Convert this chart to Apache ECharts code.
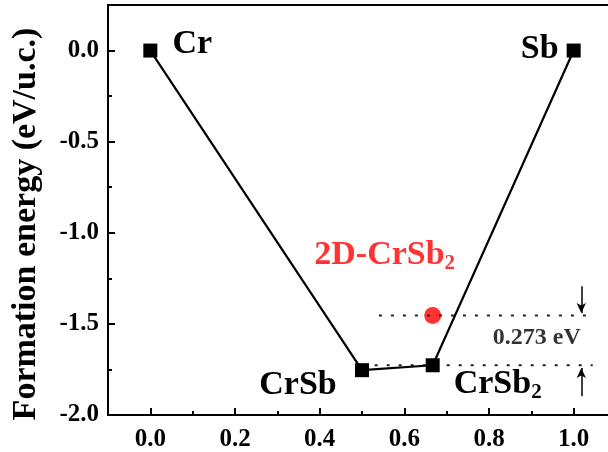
<!DOCTYPE html>
<html>
<head>
<meta charset="utf-8">
<script src="https://cdn.jsdelivr.net/npm/echarts@6/dist/echarts.min.js"></script>
<style>
  html, body { margin: 0; padding: 0; background: #fff; }
  #chart { width: 608px; height: 452px; }
</style>
</head>
<body>
<div id="chart"></div>
<script>
// hull points: composition x(Sb) vs formation energy
var hullX = [0.0, 0.5, 0.667, 1.0]
var hullY = [0.0, -1.754, -1.727, 0.0]
var hullNames = ['Cr', 'CrSb', 'CrSb2', 'Sb']

// 2D phase
var phase2D = [0.667, -1.454]

// reference levels for the 0.273 eV gap
var levelUpper = [[0.54, -1.454], [1.05, -1.454]]
var levelLower = [[0.53, -1.727], [1.045, -1.727]]
var arrowDown = [[1.018, -1.293], [1.018, -1.44]]
var arrowUp = [[1.018, -1.897], [1.018, -1.742]]
var gapText = [0.913, -1.575]

var xTicks = [0.0, 0.2, 0.4, 0.6, 0.8, 1.0]
var yTicks = [-2.0, -1.5, -1.0, -0.5, 0.0]

var FONT = 'Liberation Serif'
var RED = '#ff0000'

var myChart = echarts.init(document.getElementById('chart'), null, { renderer: 'canvas' })

var labelOffsets = {
  Cr: [42, -6],
  CrSb: [-64, 15],
  CrSb2: [65, 19],
  Sb: [-34, -1]
}

var hullData = hullX.map(function (x, i) {
  var name = hullNames[i]
  var text = name === 'CrSb2' ? '{m|CrSb}{s|2}' : '{m|' + name + '}'
  return {
    value: [x, hullY[i]],
    label: {
      show: true,
      position: 'inside',
      offset: labelOffsets[name],
      formatter: text
    }
  }
})

function richFor(color) {
  return {
    m: { fontFamily: FONT, fontWeight: 'bold', fontSize: 34, lineHeight: 36, color: color },
    s: { fontFamily: FONT, fontWeight: 'bold', fontSize: 21, lineHeight: 36, padding: [17, 0, 0, 0], color: color }
  }
}

function fmtTick(ticks) {
  return function (v) {
    for (var i = 0; i < ticks.length; i++) {
      if (Math.abs(ticks[i] - v) < 1e-6) return v.toFixed(1)
    }
    return ''
  }
}

var option = {
  animation: false,
  backgroundColor: '#fff',
  grid: {
    left: 108,
    top: 5,
    width: 508,
    height: 410,
    outerBoundsMode: 'none',
    containLabel: false,
    show: true,
    borderColor: '#000',
    borderWidth: 2,
    backgroundColor: 'transparent'
  },
  xAxis: [{
    type: 'value',
    min: -0.1,
    max: 1.1,
    interval: 0.1,
    position: 'bottom',
    axisLine: { onZero: false, lineStyle: { color: '#000', width: 2 } },
    axisTick: { inside: true, length: 4, lineStyle: { color: '#000', width: 2 } },
    axisLabel: { show: false },
    splitLine: { show: false }
  }, {
    type: 'value',
    min: -0.1,
    max: 1.1,
    position: 'bottom',
    axisLine: { show: false, onZero: false },
    axisTick: { inside: true, length: 7, lineStyle: { color: '#000', width: 2 } },
    axisLabel: {
      formatter: fmtTick(xTicks),
      color: '#000',
      fontFamily: FONT,
      fontWeight: 'bold',
      fontSize: 25,
      margin: 12
    },
    splitLine: { show: false }
  }],
  yAxis: [{
    type: 'value',
    min: -2.0,
    max: 0.25,
    interval: 0.25,
    position: 'left',
    axisLine: { onZero: false, lineStyle: { color: '#000', width: 2 } },
    axisTick: { inside: true, length: 4, lineStyle: { color: '#000', width: 2 } },
    axisLabel: { show: false },
    splitLine: { show: false },
    name: 'Formation energy (eV/u.c.)',
    nameLocation: 'middle',
    nameGap: 65,
    nameTextStyle: {
      color: '#000',
      fontFamily: FONT,
      fontWeight: 'bold',
      fontSize: 34,
      padding: [0, 28, 0, 0]
    }
  }, {
    type: 'value',
    min: -2.0,
    max: 0.25,
    interval: 0.5,
    position: 'left',
    axisLine: { show: false, onZero: false },
    axisTick: { inside: true, length: 7, lineStyle: { color: '#000', width: 2 } },
    axisLabel: {
      formatter: fmtTick(yTicks),
      color: '#000',
      fontFamily: FONT,
      fontWeight: 'bold',
      fontSize: 25,
      margin: 9
    },
    splitLine: { show: false }
  }],
  series: [{
    type: 'line',
    name: 'upper level',
    data: levelUpper,
    symbol: 'none',
    lineStyle: { color: '#222', width: 2, type: [3, 9] },
    silent: true,
    z: 7
  }, {
    type: 'line',
    name: 'lower level',
    data: levelLower,
    symbol: 'none',
    lineStyle: { color: '#222', width: 2, type: [3, 9] },
    silent: true,
    z: 4
  }, {
    type: 'line',
    name: 'hull',
    data: hullData,
    symbol: 'rect',
    symbolSize: 14,
    itemStyle: { color: '#000' },
    lineStyle: { color: '#000', width: 2.2 },
    label: { color: '#000', rich: richFor('#000') },
    z: 5
  }, {
    type: 'scatter',
    name: '2D-CrSb2',
    data: [{
      value: phase2D,
      label: {
        show: true,
        position: 'inside',
        offset: [-48, -60],
        formatter: '{m|2D-CrSb}{s|2}',
        rich: richFor(RED)
      }
    }],
    symbol: 'circle',
    symbolSize: 17,
    itemStyle: { color: RED },
    z: 6
  }, {
    type: 'scatter',
    name: 'gap',
    data: [gapText],
    symbolSize: 0,
    label: {
      show: true,
      position: 'inside',
      formatter: '0.273 eV',
      color: '#000',
      fontFamily: FONT,
      fontWeight: 'bold',
      fontSize: 24
    },
    markLine: {
      silent: true,
      symbol: ['none', 'arrow'],
      symbolSize: [7, 10],
      label: { show: false },
      lineStyle: { color: '#000', width: 1.5, type: 'solid' },
      data: [
        [{ coord: arrowDown[0] }, { coord: arrowDown[1] }],
        [{ coord: arrowUp[0] }, { coord: arrowUp[1] }]
      ]
    }
  }]
}

myChart.setOption(option)
</script>
</body>
</html>
